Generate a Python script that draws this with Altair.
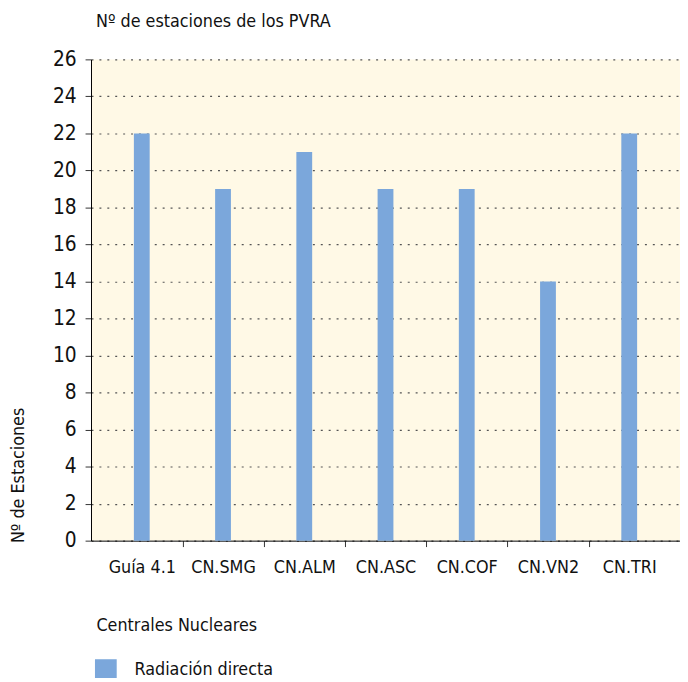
import altair as alt
import pandas as pd

centrales = ["Guía 4.1", "CN.SMG", "CN.ALM", "CN.ASC", "CN.COF", "CN.VN2", "CN.TRI"]
estaciones = [22, 19, 21, 19, 19, 14, 22]
serie = ["Radiación directa"] * len(centrales)
y_ticks = list(range(0, 27, 2))

df = pd.DataFrame({"central": centrales, "estaciones": estaciones, "serie": serie})

FONT = "Liberation Sans Narrow, DejaVu Sans Condensed, Roboto Condensed, Arial Narrow, sans-serif"

chart = (
    alt.Chart(df)
    .mark_bar(size=16)
    .encode(
        x=alt.X(
            "central:N",
            sort=centrales,
            scale=alt.Scale(paddingInner=0, paddingOuter=0.125),
            axis=alt.Axis(
                title="Centrales Nucleares",
                labelAngle=0,
                labelFontSize=18,
                labelPadding=12,
                labelOffset=41,
                labelColor="#111",
                tickSize=6,
                tickColor="#333",
                tickOffset=-41,
                tickOpacity={"condition": {"test": "datum.index == 0", "value": 0}, "value": 1},
                domainColor="#000",
                grid=False,
                titleFontSize=18,
                titleFontWeight="normal",
                titleColor="#111",
                titleAlign="left",
                titleAnchor="start",
                titleX=5,
                titleY=86,
                titleBaseline="middle",
            ),
        ),
        y=alt.Y(
            "estaciones:Q",
            scale=alt.Scale(domain=[0, 26], nice=False),
            axis=alt.Axis(
                title="Nº de Estaciones",
                values=y_ticks,
                labelFontSize=21,
                labelPadding=9,
                labelColor="#111",
                tickSize=6,
                tickColor="#333",
                domainColor="#000",
                grid=True,
                gridColor="#555",
                gridDash=[2, 6],
                gridWidth=1.2,
                titleFontSize=18,
                titleFontWeight="normal",
                titleColor="#111",
                titleAngle=270,
                titleAlign="left",
                titleBaseline="middle",
                titleX=-73,
                titleY=489,
            ),
        ),
        color=alt.Color(
            "serie:N",
            scale=alt.Scale(range=["#7BA7DB"]),
            legend=alt.Legend(
                title=None,
                orient="none",
                legendX=4,
                legendY=607,
                symbolType="square",
                symbolSize=484,
                symbolStrokeWidth=0,
                symbolOpacity=1,
                labelFontSize=18,
                labelColor="#111",
                labelOffset=18,
                padding=0,
            ),
        ),
    )
    .properties(
        width=596,
        height=487,
        padding={"left": 84, "top": 48, "right": 0, "bottom": 135},
        autosize=alt.AutoSizeParams(type="none"),
        title=alt.TitleParams(
            "Nº de estaciones de los PVRA",
            anchor="start",
            frame="group",
            dx=5,
            fontSize=18,
            fontWeight="normal",
            color="#111",
            offset=18,
        ),
    )
    .configure(font=FONT)
    .configure_view(fill="#FFF9E6", stroke=None)
)

chart.save("out.html", embed_options={"renderer": "svg", "actions": False})
